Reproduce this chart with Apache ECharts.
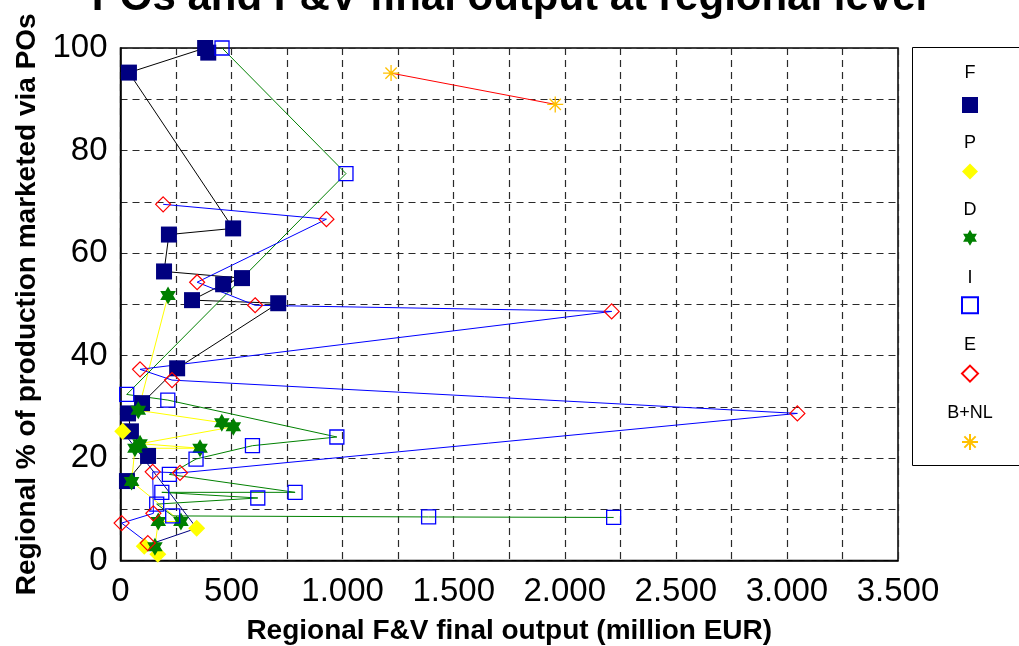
<!DOCTYPE html>
<html>
<head>
<meta charset="utf-8">
<script src="https://cdn.jsdelivr.net/npm/echarts@6/dist/echarts.min.js"></script>
<style>
  html, body { margin: 0; padding: 0; background: #fff; }
  #chart { width: 1019px; height: 646px; }
</style>
</head>
<body>
<div id="chart"></div>
<script>
// Regional F&V final output (million EUR) vs share of production marketed via POs
const seriesNames = ['F', 'P', 'D', 'I', 'E', 'B+NL'];

const F_x = [395, 381, 38, 507, 218, 196, 547, 462, 322, 710, 255, 97, 34, 47, 124, 29];
const F_y = [99.1, 100, 95.2, 64.8, 63.6, 56.4, 55.1, 53.9, 50.8, 50.2, 37.5, 30.7, 28.7, 25.2, 20.4, 15.5];

const P_x = [10, 343, 107, 168];
const P_y = [25.2, 6.3, 2.8, 1.2];

const D_x = [214, 80, 456, 508, 88, 358, 65, 50, 272, 170, 155];
const D_y = [51.7, 29.3, 26.9, 26.1, 22.8, 21.9, 21.9, 15.4, 7.6, 7.6, 2.7];

const I_x = [457, 1015, 28, 213, 974, 594, 340, 220, 786, 186, 618, 163, 235, 1387, 2220];
const I_y = [100, 75.5, 32.4, 31.3, 24.1, 22.4, 19.8, 16.8, 13.3, 13.3, 12.2, 11, 8.7, 8.5, 8.4];

const E_x = [192, 927, 345, 606, 2211, 88, 232, 3047, 268, 145, 148, 5, 123];
const E_y = [69.5, 66.6, 54.3, 49.8, 48.6, 37.3, 35.2, 28.7, 17.1, 17.3, 9.2, 7.3, 3.4];

const BNL_x = [1218, 1957];
const BNL_y = [95.1, 89.0];

const xTicks = [0, 500, 1000, 1500, 2000, 2500, 3000, 3500];
const yTicks = [0, 20, 40, 60, 80, 100];

const pairs = (xs, ys) => xs.map((x, i) => [x, ys[i]]);

const FONT = '"Liberation Sans", Arial, sans-serif';
const HEXAGRAM = 'path://M0,-10 L8.66,5 L-8.66,5 Z M0,10 L-8.66,-5 L8.66,-5 Z';
const ASTERISK = 'path://M-10,0 L10,0 M0,-10 L0,10 M-7.07,-7.07 L7.07,7.07 M-7.07,7.07 L7.07,-7.07';

// marker look per group, and the colour of the line joining its points
const groups = [
  { name: 'F', xs: F_x, ys: F_y, symbol: 'rect', size: 16,
    itemStyle: { color: '#000080', opacity: 1 }, line: '#000000' },
  { name: 'P', xs: P_x, ys: P_y, symbol: 'diamond', size: 17,
    itemStyle: { color: '#FFFF00', opacity: 1 }, line: '#000080' },
  { name: 'D', xs: D_x, ys: D_y, symbol: HEXAGRAM, size: 18,
    itemStyle: { color: '#008000', opacity: 1 }, line: '#FFFF00' },
  { name: 'I', xs: I_x, ys: I_y, symbol: 'rect', size: 14,
    itemStyle: { color: 'rgba(255,255,255,0)', borderColor: '#0000FF', borderWidth: 1.3, opacity: 1 }, line: '#008000' },
  { name: 'E', xs: E_x, ys: E_y, symbol: 'diamond', size: 15,
    itemStyle: { color: 'rgba(255,255,255,0)', borderColor: '#FF0000', borderWidth: 1.2, opacity: 1 }, line: '#0000FF' },
  { name: 'B+NL', xs: BNL_x, ys: BNL_y, symbol: ASTERISK, size: 16,
    itemStyle: { color: '#FFC000', borderColor: '#FFC000', borderWidth: 1.3, opacity: 1 }, line: '#FF0000' }
];

const series = [];
groups.forEach(g => {
  series.push({
    name: g.name + ' link',
    type: 'line',
    data: pairs(g.xs, g.ys),
    showSymbol: false,
    symbol: 'none',
    silent: true,
    z: 2,
    lineStyle: { color: g.line, width: 1 }
  });
});
groups.forEach(g => {
  series.push({
    name: g.name,
    type: 'scatter',
    data: pairs(g.xs, g.ys),
    symbol: g.symbol,
    symbolSize: g.size,
    symbolKeepAspect: true,
    z: 3,
    itemStyle: g.itemStyle
  });
});

const fmtThousands = v => {
  if (v >= 1000) {
    const t = Math.floor(v / 1000);
    const r = String(v % 1000).padStart(3, '0');
    return t + '.' + r;
  }
  return String(v);
};

const gridLine = { show: true, lineStyle: { color: '#2a2a2a', type: [7, 5], width: 1.2 } };

// legend labels sit above each icon, inside a framed box
const legendLabelY = [73, 143, 210, 278, 345, 413];
const legendGraphics = [{
  type: 'rect',
  shape: { x: 912.5, y: 47.5, width: 130, height: 418 },
  style: { fill: '#fff', stroke: '#000', lineWidth: 1 },
  z: 0
}];
seriesNames.forEach((n, i) => {
  legendGraphics.push({
    type: 'text',
    x: 970, y: legendLabelY[i],
    style: { text: n, fill: '#000', font: '18px ' + FONT, textAlign: 'center', textVerticalAlign: 'middle' },
    z: 10
  });
});

const chart = echarts.init(document.getElementById('chart'), null, { renderer: 'canvas' });
chart.setOption({
  animation: false,
  backgroundColor: '#fff',
  title: {
    text: 'POs and F&V final output at regional level',
    left: 'center',
    top: -28,
    textStyle: { fontFamily: FONT, fontWeight: 'bold', fontSize: 42, color: '#000' }
  },
  grid: {
    left: 120.5, right: 121, top: 48, bottom: 85.5,
    outerBoundsMode: 'none',
    containLabel: false,
    show: true, borderColor: '#000', borderWidth: 1.5, backgroundColor: '#fff'
  },
  legend: {
    data: seriesNames,
    orient: 'vertical',
    left: 956,
    top: 92,
    itemWidth: 16,
    itemHeight: 16,
    itemGap: 50.4,
    formatter: () => '',
    textStyle: { fontSize: 1 },
    selectedMode: false,
    z: 11
  },
  graphic: legendGraphics,
  xAxis: {
    type: 'value',
    min: xTicks[0], max: xTicks[xTicks.length - 1], interval: 500,
    name: 'Regional F&V final output (million EUR)',
    nameLocation: 'middle',
    nameGap: 57,
    nameTextStyle: { fontFamily: FONT, fontWeight: 'bold', fontSize: 28, color: '#000' },
    axisLine: { show: true, onZero: false, lineStyle: { color: '#000', width: 1.5 } },
    axisTick: { show: false },
    minorTick: { show: false, splitNumber: 2 },
    splitLine: gridLine,
    minorSplitLine: gridLine,
    axisLabel: {
      fontFamily: FONT, fontSize: 33, color: '#000', margin: 15,
      formatter: v => fmtThousands(v)
    }
  },
  yAxis: {
    type: 'value',
    min: yTicks[0], max: yTicks[yTicks.length - 1], interval: 20,
    name: 'Regional % of production marketed via POs',
    nameLocation: 'middle',
    nameGap: 78,
    nameRotate: 90,
    nameTextStyle: { fontFamily: FONT, fontWeight: 'bold', fontSize: 28, color: '#000' },
    axisLine: { show: true, onZero: false, lineStyle: { color: '#000', width: 1.5 } },
    axisTick: { show: false },
    minorTick: { show: false, splitNumber: 2 },
    splitLine: gridLine,
    minorSplitLine: gridLine,
    axisLabel: { fontFamily: FONT, fontSize: 33, color: '#000', margin: 13 }
  },
  series: series
});
</script>
</body>
</html>
